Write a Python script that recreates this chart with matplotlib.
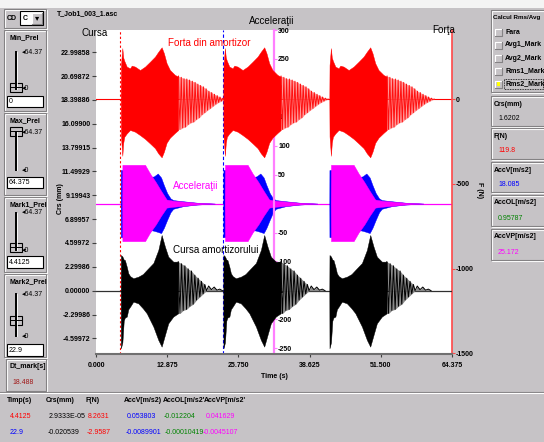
import matplotlib
matplotlib.use("Agg")
import matplotlib.pyplot as plt
from matplotlib import font_manager as fm
from matplotlib.patches import Rectangle

# ---------------- data ----------------
pulse_starts = [4.47, 23.02, 42.19]          # s, start of each sweep
time_range = [0.0, 64.375]                   # s

x_ticks = [0.0, 12.875, 25.75, 38.625, 51.5, 64.375]
crs_ticks = [22.99858, 20.69872, 18.39886, 16.09900, 13.79915, 11.49929,
             9.19943, 6.89957, 4.59972, 2.29986, 0.0, -2.29986, -4.59972]
acc_ticks = [300, 250, 200, 150, 100, 50, 0, -50, -100, -150, -200, -250]
acc_tick_labels = ["300", "250", "200", "150", "100", "50", "", "-50",
                   "-100", "-150", "-200", "-250"]
force_ticks = [0, -500, -1000, -1500]
crs_lim = (-6.11, 25.15)
acc_lim = (-260, 300)
force_lim = (-1504, 407)
accel_axis_pos = 32.1875

# Forta din amortizor (N): dense envelope, time measured from pulse start (s)
force_env_t = [0.0, 0.04, 0.29, 0.45, 0.65, 1.09, 1.68, 1.99, 2.59, 3.49, 4.39,
               5.30, 6.20, 6.80, 7.40, 7.81, 8.30, 8.90, 9.80, 10.40]
force_env_hi = [0, 200, 300, 245, 225, 191, 181, 197, 191, 171, 191,
                220, 250, 279, 305, 270, 211, 171, 142, 132]
force_env_lo = [0, -220, -335, -260, -223, -203, -183, -186, -193, -213, -235,
                -262, -290, -321, -344, -311, -258, -228, -200, -183]
# resolvable oscillations of the force after the dense part
force_tail_t = [10.45, 10.7, 10.95, 11.2, 11.45, 11.7, 11.95, 12.2, 12.45, 12.7,
                12.95, 13.2, 13.45, 13.7, 13.95, 14.2, 14.45, 14.7, 14.95, 15.2,
                15.45, 15.7, 15.95, 16.2, 16.45, 16.7, 16.95, 17.2, 17.45, 17.7,
                17.95, 18.2, 18.45, 18.7, 18.95]
force_tail_v = [135, -180, 128, -170, 120, -165, 118, -150, 112, -140,
                105, -135, 98, -120, 88, -110, 80, -92, 72, -80,
                60, -66, 46, -55, 38, -42, 28, -30, 20, -20,
                12, -12, 5, -4, 0]

# Acceleratii (m/s2): AccVP (magenta) and AccV (blue) envelopes
accvp_env_t = [0.25, 0.3, 4.4, 5.3, 6.35, 7.3, 8.3, 9.5, 11.3, 13.7, 16.0, 17.0]
accvp_env_hi = [0, 67, 67, 52, 37, 22, 7, 5, 3.5, 1.5, 0.5, 0]
accvp_env_lo = [0, -65, -65, -50, -36, -21, -7, -5.5, -4, -1.7, -0.5, 0]
accv_env_t = [0.0, 0.02, 4.4, 5.5, 6.0, 6.7, 7.3, 7.8, 8.4, 9.0, 9.5, 11.3, 13.7, 16.0, 17.0]
accv_env_hi = [0, 58, 58, 46, 47, 52, 45, 32, 18, 9, 6, 4, 1.6, 0.5, 0]
accv_env_lo = [0, -58, -58, -46, -47, -49, -51, -42, -28, -15, -9, -4.5, -1.8, -0.5, 0]

# Cursa amortizorului (mm): dense envelope
crs_env_t = [0.0, 0.03, 0.3, 0.55, 0.75, 1.1, 1.37, 1.7, 2.27, 3.17, 4.0, 4.7,
             5.9, 6.8, 7.4, 8.0, 8.6, 9.5, 10.4]
crs_env_hi = [0, 3.44, 3.3, 3.0, 2.96, 2.3, 1.68, 1.4, 1.2, 1.35, 1.6, 2.0,
              2.67, 3.93, 5.37, 4.24, 3.28, 2.8, 2.8]
crs_env_lo = [0, -5.56, -5.0, -2.9, -2.6, -2.5, -1.8, -1.54, -1.06, -1.22, -1.7, -2.18,
              -3.47, -4.76, -5.4, -4.27, -3.15, -2.5, -2.18]
crs_tail_t = [10.4, 10.7, 11.0, 11.3, 11.6, 11.9, 12.2, 12.5, 12.8, 13.1, 13.4, 13.7,
              14.0, 14.3, 14.6, 14.9, 15.2, 15.5, 15.9, 16.4, 16.9, 17.4, 17.9, 18.4]
crs_tail_v = [2.8, -2.2, 2.6, -1.9, 2.4, -1.8, 2.1, -1.5, 1.9, -1.3, 1.5, -0.9,
              1.2, -0.6, 0.9, -0.3, 0.6, 0.0, 0.45, 0.1, 0.35, 0.05, 0.15, 0.0]

marker1 = 4.4125
marker2 = 22.9
dt_mark = "18.488"

table_header = ["Timp(s)", "Crs(mm)", "F(N)", "AccV[m/s2)", "AccOL[m/s2'", "AccVP[m/s2'"]
table_row1 = ["4.4125", "2.9333E-05", "8.2631", "0.053803", "-0.012204", "0.041629"]
table_row2 = ["22.9", "-0.020539", "-2.9587", "-0.0089901", "-0.00010419", "-0.0045107"]

rms_options = ["Fara", "Avg1_Mark", "Avg2_Mark", "Rms1_Mark", "Rms2_Mark"]
value_labels = ["Crs(mm)", "F(N)", "AccV[m/s2]", "AccOL[m/s2]", "AccVP[m/s2]"]
value_texts = ["1.6202", "119.8", "18.085", "0.95787", "25.172"]

slider_names = ["Min_Prel", "Max_Prel", "Mark1_Prel", "Mark2_Prel"]
slider_values = ["0", "64.375", "4.4125", "22.9"]

# ---------------- styling ----------------
BG = "#c6c3c6"
DARK = "#848284"
RED = "#ff0000"
MAG = "#ff00ff"
BLUE = "#0000ff"
GREEN = "#008200"

try:
    fm.findfont(fm.FontProperties(family="Liberation Sans Narrow"), fallback_to_default=False)
    NARROW = True
except Exception:
    NARROW = False
FAM = ["Liberation Sans Narrow", "DejaVu Sans"] if NARROW else ["Liberation Sans", "DejaVu Sans"]
SC = 1.0 if NARROW else 0.85
UI = 5.9 * SC
CH = 8.4 * SC

fig = plt.figure(figsize=(5.44, 4.42), dpi=100, facecolor=BG)

ui = fig.add_axes([0, 0, 1, 1], zorder=0)
ui.set_xlim(0, 544)
ui.set_ylim(442, 0)
ui.axis("off")

top = fig.add_axes([0, 0, 1, 1], zorder=10)
top.set_xlim(0, 544)
top.set_ylim(442, 0)
top.axis("off")
top.patch.set_visible(False)


def txt(a, x, y, s, size=UI, color="black", weight="bold", ha="left", rot=0):
    a.text(x, y, s, fontsize=size, color=color, fontweight=weight, ha=ha,
           va="center", family=FAM, rotation=rot)


def etched(x0, y0, x1, y1):
    ui.add_patch(Rectangle((x0 + 1, y0 + 1), x1 - x0, y1 - y0, fill=False, ec="white", lw=0.8))
    ui.add_patch(Rectangle((x0, y0), x1 - x0, y1 - y0, fill=False, ec=DARK, lw=0.8))


def raised(x0, y0, x1, y1, fc=BG):
    ui.add_patch(Rectangle((x0, y0), x1 - x0, y1 - y0, fc=fc, ec="none"))
    ui.plot([x0, x0, x1], [y1, y0, y0], color="white", lw=0.8)
    ui.plot([x0, x1, x1], [y1, y1, y0], color=DARK, lw=0.8)


def split_env(ts, vs):
    hi_t = [t for t, v in zip(ts, vs) if v >= 0]
    hi_v = [v for v in vs if v >= 0]
    lo_t = [t for t, v in zip(ts, vs) if v <= 0]
    lo_v = [v for v in vs if v <= 0]
    return hi_t, hi_v, lo_t, lo_v


# top white strip
ui.add_patch(Rectangle((0, 0), 544, 8, fc="#f4f4f4", ec="none"))

# CD combo
etched(4, 9, 46, 28)
txt(ui, 7, 18, "CD")
ui.add_patch(Rectangle((20, 11), 23, 14, fc="white", ec="black", lw=0.8))
txt(ui, 23, 18, "C")
raised(32, 12.5, 42, 23.5)
ui.text(37, 18, "\u25be", fontsize=6, ha="center", va="center", family="DejaVu Sans")

# sliders
groups = [(30, 111), (113, 195), (197, 272), (274, 357)]
tracks = [(52, 89), (132, 170), (213, 250), (294, 336)]
thumbs = [87, 131, 247, 320]
boxes = [(96, 107), (177, 188), (256, 268), (344, 356)]
for name, val, (g0, g1), (t0, t1), th, (b0, b1) in zip(slider_names, slider_values, groups,
                                                       tracks, thumbs, boxes):
    etched(4, g0, 46, g1)
    txt(ui, 9, g0 + 8, name)
    ui.plot([16, 16], [t0, t1], color="black", lw=1.4)
    ui.plot([17.2, 17.2], [t0, t1], color="white", lw=0.6)
    txt(ui, 22, t0, "\u25c264.37", size=UI, weight="normal")
    txt(ui, 22, t1, "\u25c20", size=UI, weight="normal")
    ui.add_patch(Rectangle((9.5, th - 4.5), 12, 9, fc=BG, ec="black", lw=0.8))
    ui.plot([9.5, 21.5], [th, th], color="black", lw=0.7)
    ui.add_patch(Rectangle((7, b0), 36, b1 - b0, fc="white", ec="black", lw=0.8))
    txt(ui, 9, (b0 + b1) / 2, val, weight="normal")

# Dt_mark
etched(6, 359, 46, 391)
txt(ui, 9, 367, "Dt_mark[s]")
txt(ui, 12, 382, dt_mark, color="#a01818", weight="normal")

# separator
ui.plot([0, 544], [392, 392], color=DARK, lw=0.8)
ui.plot([0, 544], [393.2, 393.2], color="white", lw=0.8)

# bottom table
col_x_head = [7, 46, 85, 124, 163, 204]
col_x_r1 = [10, 49, 88, 127, 164, 206]
col_x_r2 = [10, 48, 87, 126, 165, 203]
col_colors = [None, "black", RED, BLUE, GREEN, MAG]
for i, h in enumerate(table_header):
    txt(ui, col_x_head[i], 401, h)
for i, v in enumerate(table_row1):
    txt(ui, col_x_r1[i], 417, v, color=RED if i == 0 else col_colors[i], weight="normal")
for i, v in enumerate(table_row2):
    txt(ui, col_x_r2[i], 433, v, color=BLUE if i == 0 else col_colors[i], weight="normal")

# right panel
etched(491, 10, 546, 92)
txt(ui, 493, 17, "Calcul Rms/Avg", size=UI * 0.9)
opt_y = [32, 45, 58, 71, 84]
for o, y in zip(rms_options, opt_y):
    raised(495, y - 3.5, 502, y + 3.5)
    txt(ui, 505, y, o)
ui.add_patch(Rectangle((497.3, 82), 2.5, 3.5, fc="#ffff00", ec="none"))
ui.add_patch(Rectangle((503.5, 79), 39, 10, fill=False, ec="black", lw=0.6, ls=(0, (1, 1))))
val_boxes = [(96, 126), (128, 159), (162, 192), (195, 226), (229, 260)]
val_colors = ["black", RED, BLUE, GREEN, MAG]
for lab, v, (b0, b1), c in zip(value_labels, value_texts, val_boxes, val_colors):
    etched(491, b0, 546, b1)
    txt(ui, 494, b0 + 8, lab)
    txt(ui, 498, b1 - 8, v, color=c, weight="normal")

# ---------------- chart ----------------
rect = [96 / 544, (442 - 354) / 442, 356 / 544, 324 / 442]
ax_a = fig.add_axes(rect, zorder=1)
ax_f = fig.add_axes(rect, zorder=2)
ax_c = fig.add_axes(rect, zorder=3)
for a in (ax_a, ax_f, ax_c):
    a.set_xlim(*time_range)
    for s in a.spines.values():
        s.set_visible(False)
ax_a.set_facecolor("white")
ax_f.patch.set_visible(False)
ax_c.patch.set_visible(False)

# markers
ax_a.axvline(marker1, color=RED, lw=0.8, ls=(0, (2, 2)), zorder=0.6)
ax_a.axvline(marker2, color=BLUE, lw=0.8, ls=(0, (3, 2)), zorder=0.6)

# accelerations
ax_a.set_ylim(*acc_lim)
ax_a.plot(time_range, [0, 0], color=MAG, lw=0.9, zorder=1.5)
for s in pulse_starts:
    ax_a.fill_between([s + t for t in accv_env_t], accv_env_lo, accv_env_hi,
                      color=BLUE, lw=0.3, zorder=1.6)
    ax_a.fill_between([s + t for t in accvp_env_t], accvp_env_lo, accvp_env_hi,
                      color=MAG, lw=0.3, zorder=1.7)
ax_a.set_axisbelow(True)
ax_a.spines["right"].set_visible(True)
ax_a.spines["right"].set_position(("data", accel_axis_pos))
ax_a.spines["right"].set_color("#ff7fff")
ax_a.spines["right"].set_linewidth(1.6)
ax_a.yaxis.tick_right()
ax_a.set_yticks(acc_ticks, acc_tick_labels, fontsize=UI, fontweight="bold", family=FAM)
ax_a.tick_params(axis="y", direction="out", length=2.5, width=0.8, color="#ff7fff", pad=0.5)
ax_a.set_xticks([])

# force
ax_f.set_ylim(*force_lim)
ax_f.plot(time_range, [0, 0], color=RED, lw=0.8, zorder=1)
fh_t, fh_v, fl_t, fl_v = split_env(force_tail_t, force_tail_v)
for s in pulse_starts:
    ax_f.fill_between([s + t for t in force_env_t], force_env_lo, force_env_hi,
                      color=RED, lw=0.3, zorder=2)
    ax_f.fill_between([s + t for t in fh_t], 0, fh_v, color="#ff9a9a", lw=0, zorder=1.8)
    ax_f.fill_between([s + t for t in fl_t], fl_v, 0, color="#ff9a9a", lw=0, zorder=1.8)
    ax_f.plot([s + t for t in force_tail_t], force_tail_v, color="#ff1010", lw=0.7, zorder=2)
ax_f.spines["right"].set_visible(True)
ax_f.spines["right"].set_color("#ff4848")
ax_f.spines["right"].set_linewidth(1.2)
ax_f.yaxis.tick_right()
ax_f.set_yticks(force_ticks, [str(v) for v in force_ticks], fontsize=UI, fontweight="bold", family=FAM)
ax_f.tick_params(axis="y", direction="out", length=2.5, width=0.8, color="#ff4848", pad=0.5)
ax_f.set_xticks([])

# cursa
ax_c.set_ylim(*crs_lim)
ax_c.plot(time_range, [0, 0], color="#303030", lw=0.9, zorder=1)
ch_t, ch_v, cl_t, cl_v = split_env(crs_tail_t, crs_tail_v)
for s in pulse_starts:
    ax_c.fill_between([s + t for t in crs_env_t], crs_env_lo, crs_env_hi,
                      color="black", lw=0.3, zorder=2)
    ax_c.fill_between([s + t for t in ch_t], 0, ch_v, color="#8a8a8a", lw=0, zorder=1.8)
    ax_c.fill_between([s + t for t in cl_t], cl_v, 0, color="#8a8a8a", lw=0, zorder=1.8)
    ax_c.plot([s + t for t in crs_tail_t], crs_tail_v, color="black", lw=0.7, zorder=2)
ax_c.set_yticks(crs_ticks, [f"{v:.5f}" for v in crs_ticks], fontsize=UI, fontweight="bold", family=FAM)
ax_c.set_xticks(x_ticks, [f"{v:.3f}" for v in x_ticks], fontsize=UI, fontweight="bold", family=FAM)
ax_c.tick_params(axis="y", direction="out", length=3, width=0.8, color="#404040", pad=1)
ax_c.tick_params(axis="x", direction="out", length=2.5, width=0.8, color="#404040", pad=3)
ax_c.spines["bottom"].set_visible(True)
ax_c.spines["bottom"].set_color("#707070")
ax_c.spines["bottom"].set_linewidth(1.5)

# titles and annotations
txt(top, 57, 14, "T_Job1_003_1.asc")
txt(top, 82, 33, "Cursa", size=CH, weight="normal")
txt(top, 272, 21, "Acceleraţii", size=CH, weight="normal", ha="center")
txt(top, 455, 30, "Forţa", size=CH, weight="normal", ha="right")
txt(top, 168, 43, "Forta din amortizor", size=CH, color=RED, weight="normal")
txt(top, 173, 186, "Acceleraţii", size=CH, color=MAG, weight="normal")
txt(top, 173, 250, "Cursa amortizorului", size=CH, weight="normal")
txt(top, 274, 376, "Time (s)", ha="center")
txt(top, 60, 199, "Crs (mm)", ha="center", rot=90)
txt(top, 480, 190, "F (N)", ha="center", rot=270)

fig.savefig("out.png", dpi=100, facecolor=BG)
